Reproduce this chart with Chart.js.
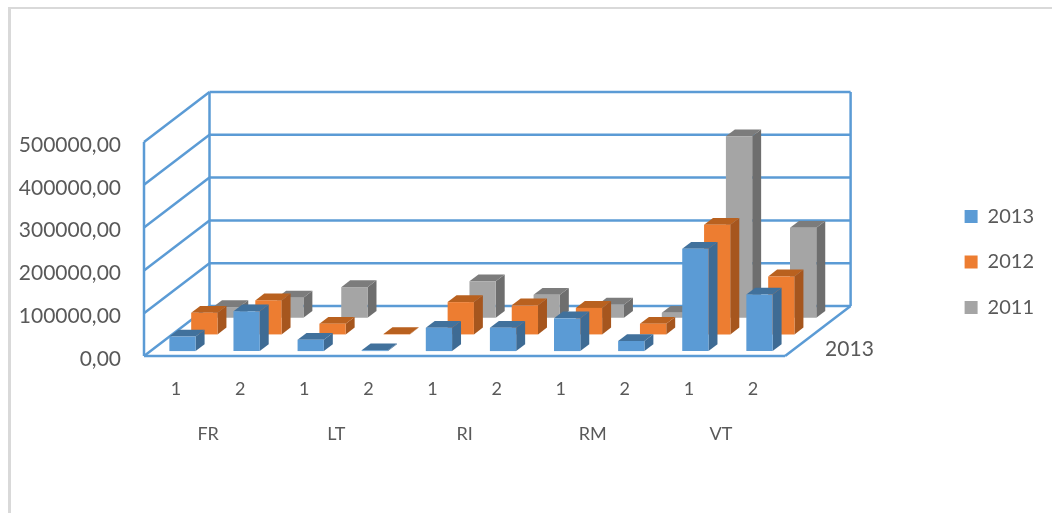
<!DOCTYPE html>
<html>
<head>
<meta charset="utf-8">
<style>
  html, body { margin: 0; padding: 0; background: #fff; overflow: hidden; }
  #wrap { position: relative; width: 1052px; height: 513px; }
  #frame { position: absolute; left: 8px; top: 7px; right: 0; bottom: 0; border-top: 2px solid #d9d9d9; border-left: 3px solid #d9d9d9; }
  canvas { position: absolute; left: 0; top: 0; }
</style>
<script src="https://cdn.jsdelivr.net/npm/chart.js@4"></script>
</head>
<body>
<div id="wrap">
  <div id="frame"></div>
  <canvas id="c" width="1052" height="513"></canvas>
</div>
<script>
const halves = ['1','2','1','2','1','2','1','2','1','2'];
const groups = ['FR','LT','RI','RM','VT'];
const depthLabels = ['2013'];
const seriesNames = ['2013','2012','2011'];
const values2013 = [34000, 93000, 26500, 2000, 54500, 54500, 76500, 23500, 239000, 132000];
const values2012 = [50500, 79500, 25000, 1000, 75500, 68000, 62000, 25000, 256000, 135500];
const values2011 = [25000, 47000, 71500, null, 85000, 53500, 30500, 11500, 424000, 210000];

const frontColors = ['#5B9BD5', '#ED7D31', '#A5A5A5'];
const topColors   = ['#41719C', '#B9611F', '#7C7C7C'];
const sideColors  = ['#3E6B94', '#A6561E', '#6E6E6E'];
const wallColor = '#5B9BD5';
const textColor = '#595959';

// Oblique projection of the floor: how far the back wall sits from the front edge.
const WALL_DX = 65.5, WALL_DY = -50;
const SLOT_DX = WALL_DX / seriesNames.length, SLOT_DY = WALL_DY / seriesNames.length;
const BAR_DEPTH = 0.41, BAR_GAP = 0.295;

function seg(ctx, x1, y1, x2, y2) {
  ctx.beginPath(); ctx.moveTo(x1, y1); ctx.lineTo(x2, y2); ctx.stroke();
}
function poly(ctx, pts, fill) {
  ctx.fillStyle = fill;
  ctx.beginPath();
  pts.forEach((p, i) => i ? ctx.lineTo(p[0], p[1]) : ctx.moveTo(p[0], p[1]));
  ctx.closePath();
  ctx.fill();
}

const perspective = {
  id: 'perspective',
  afterLayout(chart) {
    // Lower the legend block so that it centres beside the plot.
    chart.legend.top += 13;
    chart.legend.bottom += 13;
  },
  beforeDraw(chart) {
    // Digits read optically centred on the gridlines with a small downward nudge.
    chart.scales.y.getLabelItems(chart.chartArea).forEach((item) => { item.textOffset += 3; });
  },
  beforeDatasetsDraw(chart) {
    const { ctx, chartArea: a, scales: { y } } = chart;
    ctx.save();
    ctx.strokeStyle = wallColor;
    ctx.lineWidth = 2.5;
    y.ticks.forEach((t) => {
      const py = y.getPixelForValue(t.value);
      seg(ctx, a.left, py, a.left + WALL_DX, py + WALL_DY);
      seg(ctx, a.left + WALL_DX, py + WALL_DY, a.right + WALL_DX, py + WALL_DY);
    });
    const y0 = y.getPixelForValue(0), yTop = y.getPixelForValue(y.max);
    seg(ctx, a.left, yTop, a.left, y0);
    seg(ctx, a.left + WALL_DX, yTop + WALL_DY, a.left + WALL_DX, y0 + WALL_DY);
    seg(ctx, a.right + WALL_DX, yTop + WALL_DY, a.right + WALL_DX, y0 + WALL_DY);
    seg(ctx, a.left, y0, a.right, y0);
    seg(ctx, a.right, y0, a.right + WALL_DX, y0 + WALL_DY);
    ctx.fillStyle = textColor;
    ctx.font = '21px Lato';
    ctx.textAlign = 'left';
    ctx.textBaseline = 'middle';
    ctx.fillText(depthLabels[0], a.right + 40, y0 - 7);
    ctx.restore();
  },
  beforeDatasetDraw(chart, args) {
    const { ctx } = chart;
    const i = args.index;
    const ox = SLOT_DX * (i + BAR_GAP), oy = SLOT_DY * (i + BAR_GAP);
    const dx = SLOT_DX * BAR_DEPTH, dy = SLOT_DY * BAR_DEPTH;
    ctx.save();
    ctx.translate(ox, oy);
    args.meta.data.forEach((bar, n) => {
      if (seriesValues[i][n] === null) return;
      const l = bar.x - bar.width / 2, r = bar.x + bar.width / 2;
      const t = Math.min(bar.y, bar.base), b = Math.max(bar.y, bar.base);
      poly(ctx, [[r, t], [r + dx, t + dy], [r + dx, b + dy], [r, b]], sideColors[i]);
      poly(ctx, [[l, t], [l + dx, t + dy], [r + dx, t + dy], [r, t]], topColors[i]);
    });
  },
  afterDatasetDraw(chart) {
    chart.ctx.restore();
  }
};

const seriesValues = [values2013, values2012, values2011];

new Chart(document.getElementById('c'), {
  type: 'bar',
  plugins: [perspective],
  data: {
    labels: halves,
    datasets: seriesNames.map((name, i) => ({
      label: name,
      data: seriesValues[i],
      backgroundColor: frontColors[i],
      borderWidth: 0,
      grouped: false,
      clip: false,
      barPercentage: 0.41,
      categoryPercentage: 1
    }))
  },
  options: {
    responsive: false,
    animation: false,
    layout: { padding: { top: 142, left: 0, right: 8, bottom: 0 } },
    plugins: {
      tooltip: { enabled: false },
      legend: {
        position: 'right',
        fullSize: false,
        labels: {
          boxWidth: 13, boxHeight: 13, padding: 25.5,
          color: textColor,
          font: { family: 'Lato', size: 20 }
        }
      }
    },
    scales: {
      x: {
        position: 'bottom',
        grid: { display: false },
        border: { display: false },
        ticks: { color: textColor, font: { family: 'Lato', size: 18 }, padding: 14, maxRotation: 0, autoSkip: false },
        afterFit(s) { s.height = 54; }
      },
      groupAxis: {
        type: 'category',
        position: 'bottom',
        labels: groups,
        grid: { display: false },
        border: { display: false },
        ticks: { color: textColor, font: { family: 'Lato', size: 18 }, padding: 5 },
        afterFit(s) { s.height = 103; }
      },
      y: {
        position: 'left',
        min: 0, max: 500000,
        grid: { display: false },
        border: { display: false },
        ticks: {
          stepSize: 100000,
          color: textColor,
          font: { family: 'Lato', size: 21 },
          padding: 15,
          callback: (v) => v.toFixed(2).replace('.', ',')
        },
        afterFit(s) { s.width = 144; }
      },
      legendGap: {
        type: 'linear',
        position: 'right',
        display: true,
        grid: { display: false },
        border: { display: false },
        ticks: { display: false },
        afterFit(s) { s.width = 154; }
      }
    }
  }
});
</script>
</body>
</html>
